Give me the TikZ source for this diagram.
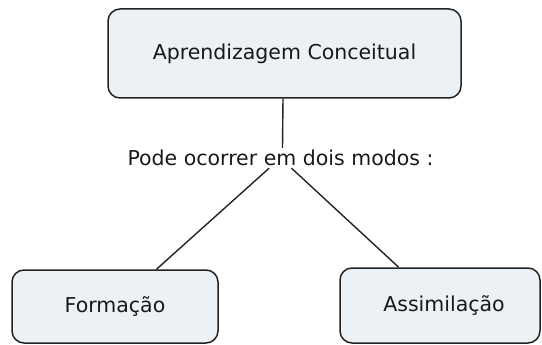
\documentclass[tikz,border=0pt]{standalone}
\usepackage{fontspec}
\setmainfont{DejaVu Sans}
\definecolor{boxfill}{RGB}{235,241,244}
\definecolor{edgecol}{RGB}{35,35,35}
\begin{document}
\begin{tikzpicture}[x=1pt,y=-1pt,
  concept/.style={draw=edgecol,line width=1.5pt,fill=boxfill,rounded corners=12pt,
    inner sep=0pt,font=\fontsize{20.5}{24}\selectfont,text=black!90},
  linklabel/.style={inner sep=0pt,minimum height=20pt,font=\fontsize{20.5}{24}\selectfont,text=black!90},
  conn/.style={draw=edgecol,line width=1.4pt}]
\useasboundingbox (0,0) rectangle (542,345);
\node[concept,minimum width=353pt,minimum height=89pt] (top) at (284.5,53.5) {Aprendizagem Conceitual\hspace{10pt}};
\node[linklabel] (lab) at (280.5,158) {Pode ocorrer em dois modos :};
\node[concept,minimum width=206pt,minimum height=73pt] (form) at (115,306.5) {Formação\hspace{7pt}};
\node[concept,minimum width=200pt,minimum height=75pt] (assim) at (440,305.5) {\hspace{8pt}Assimilação};
\draw[conn] ([xshift=-1.5pt]top.south) -- ([xshift=2pt]lab.north);
\draw[conn] (lab) -- (form);
\draw[conn] (lab) -- (assim);
\end{tikzpicture}
\end{document}
